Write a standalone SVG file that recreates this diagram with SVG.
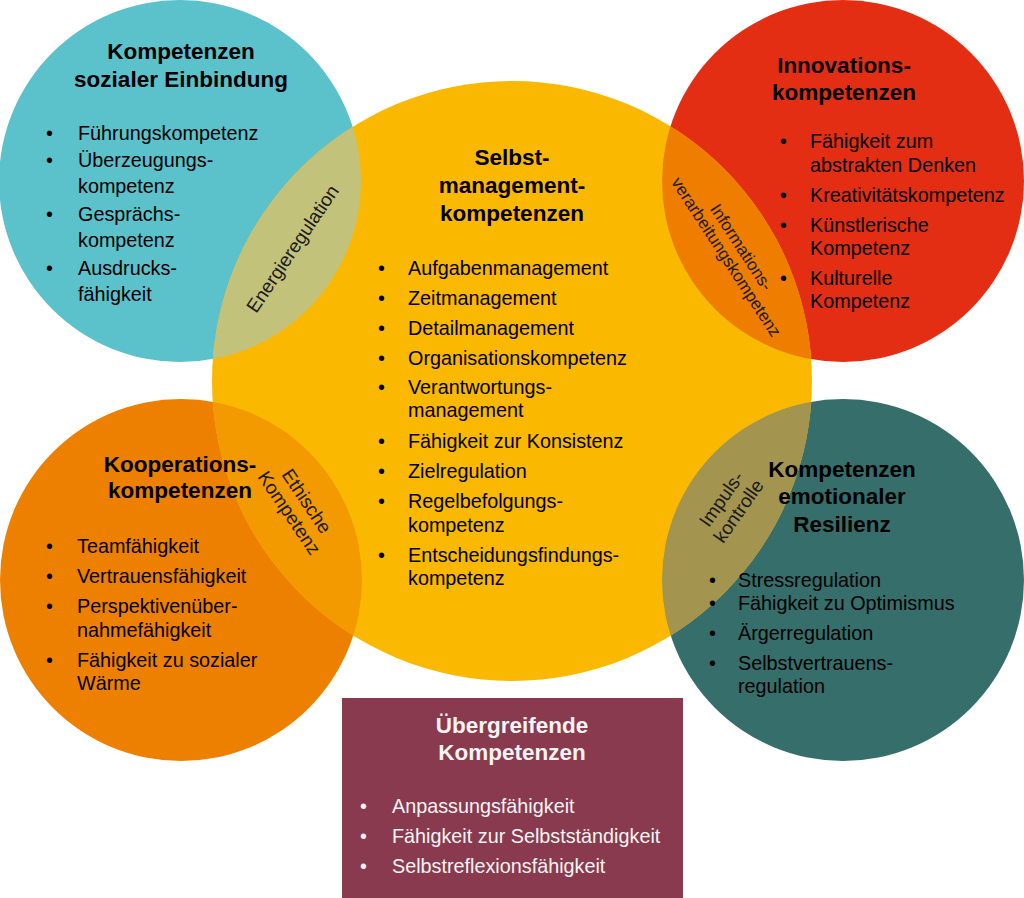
<svg xmlns="http://www.w3.org/2000/svg" width="1024" height="898" viewBox="0 0 1024 898">
<style>
text{font-family:"Liberation Sans",Arial,sans-serif;fill:#000}
.t{font-weight:bold;font-size:22.5px;text-anchor:middle}
.b{font-size:19.8px}
.o{font-size:19px;text-anchor:middle;fill:#1a1a1a}
.w{fill:#F4F4F4}
</style>
<defs>
<clipPath id="cTL"><circle cx="180" cy="181" r="181"/></clipPath>
<clipPath id="cTR"><circle cx="843" cy="181" r="181"/></clipPath>
<clipPath id="cBL"><circle cx="181" cy="580" r="181"/></clipPath>
<clipPath id="cBR"><circle cx="843" cy="580" r="181"/></clipPath>
</defs>
<rect width="1024" height="898" fill="#fff"/>

<g id="shapes">
<circle cx="180" cy="181" r="181" fill="#5BC1CB"/>
<circle cx="843" cy="181" r="181" fill="#E42E14"/>
<circle cx="181" cy="580" r="181" fill="#EE8000"/>
<circle cx="843" cy="580" r="181" fill="#356E6A"/>
<circle cx="512" cy="381" r="300" fill="#FAB900"/>
<circle cx="512" cy="381" r="300" fill="#C3C27A" clip-path="url(#cTL)"/>
<circle cx="512" cy="381" r="300" fill="#EF7D00" clip-path="url(#cTR)"/>
<circle cx="512" cy="381" r="300" fill="#F39A00" clip-path="url(#cBL)"/>
<circle cx="512" cy="381" r="300" fill="#A3944F" clip-path="url(#cBR)"/>
<rect x="342" y="698" width="341" height="200" fill="#8A3A4E"/>
</g>

<g id="sozial">
<text class="t" x="181" y="59">Kompetenzen</text>
<text class="t" x="181" y="87">sozialer Einbindung</text>
<text class="b" x="46" y="140">•</text><text class="b" x="78" y="140">Führungskompetenz</text>
<text class="b" x="46" y="167">•</text><text class="b" x="78" y="167">Überzeugungs-</text>
<text class="b" x="78" y="193">kompetenz</text>
<text class="b" x="46" y="221">•</text><text class="b" x="78" y="221">Gesprächs-</text>
<text class="b" x="78" y="247">kompetenz</text>
<text class="b" x="46" y="275">•</text><text class="b" x="78" y="275">Ausdrucks-</text>
<text class="b" x="78" y="301">fähigkeit</text>
</g>

<g id="innovation">
<text class="t" x="844" y="73">Innovations-</text>
<text class="t" x="844" y="100">kompetenzen</text>
<text class="b" x="780" y="148">•</text><text class="b" x="810" y="148">Fähigkeit zum</text>
<text class="b" x="810" y="172">abstrakten Denken</text>
<text class="b" x="780" y="202">•</text><text class="b" x="810" y="202">Kreativitätskompetenz</text>
<text class="b" x="780" y="232">•</text><text class="b" x="810" y="232">Künstlerische</text>
<text class="b" x="810" y="255">Kompetenz</text>
<text class="b" x="780" y="285">•</text><text class="b" x="810" y="285">Kulturelle</text>
<text class="b" x="810" y="308">Kompetenz</text>
</g>

<g id="selbstmanagement">
<text class="t" x="512" y="165">Selbst-</text>
<text class="t" x="512" y="193">management-</text>
<text class="t" x="512" y="221">kompetenzen</text>
<text class="b" x="378" y="275">•</text><text class="b" x="408" y="275">Aufgabenmanagement</text>
<text class="b" x="378" y="305">•</text><text class="b" x="408" y="305">Zeitmanagement</text>
<text class="b" x="378" y="335">•</text><text class="b" x="408" y="335">Detailmanagement</text>
<text class="b" x="378" y="365">•</text><text class="b" x="408" y="365">Organisationskompetenz</text>
<text class="b" x="378" y="394">•</text><text class="b" x="408" y="394">Verantwortungs-</text>
<text class="b" x="408" y="417">management</text>
<text class="b" x="378" y="448">•</text><text class="b" x="408" y="448">Fähigkeit zur Konsistenz</text>
<text class="b" x="378" y="478">•</text><text class="b" x="408" y="478">Zielregulation</text>
<text class="b" x="378" y="508">•</text><text class="b" x="408" y="508">Regelbefolgungs-</text>
<text class="b" x="408" y="532">kompetenz</text>
<text class="b" x="378" y="562">•</text><text class="b" x="408" y="562">Entscheidungsfindungs-</text>
<text class="b" x="408" y="585">kompetenz</text>
</g>

<g id="kooperation">
<text class="t" x="180" y="472">Kooperations-</text>
<text class="t" x="180" y="498">kompetenzen</text>
<text class="b" x="46" y="553">•</text><text class="b" x="77" y="553">Teamfähigkeit</text>
<text class="b" x="46" y="583">•</text><text class="b" x="77" y="583">Vertrauensfähigkeit</text>
<text class="b" x="46" y="613">•</text><text class="b" x="77" y="613">Perspektivenüber-</text>
<text class="b" x="77" y="637">nahmefähigkeit</text>
<text class="b" x="46" y="667">•</text><text class="b" x="77" y="667">Fähigkeit zu sozialer</text>
<text class="b" x="77" y="690">Wärme</text>
</g>

<g id="resilienz">
<text class="t" x="842" y="477">Kompetenzen</text>
<text class="t" x="842" y="504">emotionaler</text>
<text class="t" x="842" y="532">Resilienz</text>
<text class="b" x="709" y="587">•</text><text class="b" x="738" y="587">Stressregulation</text>
<text class="b" x="709" y="610">•</text><text class="b" x="738" y="610">Fähigkeit zu Optimismus</text>
<text class="b" x="709" y="640">•</text><text class="b" x="738" y="640">Ärgerregulation</text>
<text class="b" x="709" y="670">•</text><text class="b" x="738" y="670">Selbstvertrauens-</text>
<text class="b" x="738" y="693">regulation</text>
</g>

<g id="uebergreifend">
<text class="t w" x="512" y="733">Übergreifende</text>
<text class="t w" x="512" y="760">Kompetenzen</text>
<text class="b w" x="360" y="813">•</text><text class="b w" x="392" y="813">Anpassungsfähigkeit</text>
<text class="b w" x="360" y="843">•</text><text class="b w" x="392" y="843">Fähigkeit zur Selbstständigkeit</text>
<text class="b w" x="360" y="873">•</text><text class="b w" x="392" y="873">Selbstreflexionsfähigkeit</text>
</g>

<g id="overlaps">
<text class="o" transform="translate(293,249) rotate(-56)" y="6">Energieregulation</text>
<text class="o" transform="translate(734,252) rotate(57)" style="font-size:17px"><tspan x="0" y="-3">Informations-</tspan><tspan x="0" y="15">verarbeitungskompetenz</tspan></text>
<text class="o" transform="translate(298,507) rotate(56)"><tspan x="0" y="-4">Ethische</tspan><tspan x="0" y="17">Kompetenz</tspan></text>
<text class="o" transform="translate(730,505) rotate(-55)"><tspan x="0" y="-4">Impuls-</tspan><tspan x="0" y="17">kontrolle</tspan></text>
</g>
</svg>
